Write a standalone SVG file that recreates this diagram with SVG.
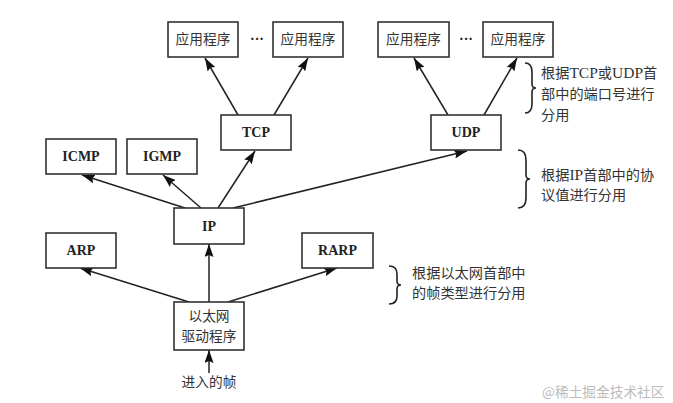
<svg xmlns="http://www.w3.org/2000/svg" width="673" height="403" viewBox="0 0 673 403">
<style>
.box{fill:#fff;stroke:#333;stroke-width:1.6}
.lbl{font-family:"Liberation Serif",serif;font-weight:bold;font-size:14px;fill:#222;text-anchor:middle}
.cn{font-family:"Noto Sans CJK SC",sans-serif;font-size:13.7px;fill:#333;text-anchor:middle}
.note{font-family:"Liberation Serif","Noto Sans CJK SC",serif;font-size:14.2px;fill:#333}
.ln{stroke:#222;stroke-width:1.5;fill:none;marker-end:url(#ah)}
.br{stroke:#222;stroke-width:1.6;fill:none}
</style>
<defs>
<marker id="ah" viewBox="0 0 13 9" refX="13" refY="4.5" markerWidth="13" markerHeight="9" markerUnits="userSpaceOnUse" orient="auto">
<path d="M0,0 L13,4.5 L0,9 L2,4.5 Z" fill="#111"/>
</marker>
</defs>
<rect width="673" height="403" fill="#fff"/>
<g id="connectors">
<line class="ln" x1="238" y1="115" x2="205" y2="58"/>
<line class="ln" x1="274" y1="115" x2="308" y2="58"/>
<line class="ln" x1="448" y1="115" x2="414" y2="58"/>
<line class="ln" x1="484" y1="115" x2="517" y2="58"/>
<line class="ln" x1="185" y1="208" x2="82" y2="175"/>
<line class="ln" x1="201" y1="208" x2="163" y2="175"/>
<line class="ln" x1="218" y1="208" x2="255" y2="151"/>
<line class="ln" x1="233" y1="208" x2="467" y2="151"/>
<line class="ln" x1="189" y1="302" x2="80" y2="268"/>
<line class="ln" x1="209" y1="302" x2="209" y2="244"/>
<line class="ln" x1="228" y1="302" x2="337" y2="268"/>
<line class="ln" x1="209" y1="373" x2="209" y2="350"/>
</g>
<g id="app1"><rect class="box" x="168" y="22" width="70" height="35"/><text class="cn" x="203" y="44">应用程序</text></g>
<g id="app2"><rect class="box" x="273" y="22" width="70" height="35"/><text class="cn" x="308" y="44">应用程序</text></g>
<g id="app3"><rect class="box" x="378" y="22" width="71" height="35"/><text class="cn" x="413.5" y="44">应用程序</text></g>
<g id="app4"><rect class="box" x="483" y="22" width="70" height="35"/><text class="cn" x="518" y="44">应用程序</text></g>
<g id="dots1"><text class="lbl" x="257" y="44">···</text></g>
<g id="dots2"><text class="lbl" x="466" y="44">···</text></g>
<g id="tcp"><rect class="box" x="221" y="115" width="70" height="35"/><text class="lbl" x="256" y="137">TCP</text></g>
<g id="udp"><rect class="box" x="431" y="115" width="70" height="35"/><text class="lbl" x="466" y="137">UDP</text></g>
<g id="icmp"><rect class="box" x="46" y="139" width="70" height="35"/><text class="lbl" x="81" y="161">ICMP</text></g>
<g id="igmp"><rect class="box" x="127" y="139" width="70" height="35"/><text class="lbl" x="162" y="161">IGMP</text></g>
<g id="ip"><rect class="box" x="174" y="208" width="70" height="36"/><text class="lbl" x="209" y="231">IP</text></g>
<g id="arp"><rect class="box" x="46" y="233" width="70" height="35"/><text class="lbl" x="81" y="255">ARP</text></g>
<g id="rarp"><rect class="box" x="302" y="233" width="71" height="35"/><text class="lbl" x="337.5" y="255">RARP</text></g>
<g id="eth"><rect class="box" x="174" y="302" width="70" height="48"/><text class="cn" x="209" y="321">以太网</text><text class="cn" x="209" y="341">驱动程序</text></g>
<g id="in"><text class="cn" x="209" y="387">进入的帧</text></g>
<g id="note1">
<path class="br" d="M525,63 Q532,63 532,72 L532,84 Q532,88 536,88 Q532,88 532,92 L532,104 Q532,113 525,113"/>
<text class="note" x="541" y="78">根据<tspan font-size="15.5">TCP</tspan>或<tspan font-size="15.5">UDP</tspan>首</text>
<text class="note" x="541" y="99">部中的端口号进行</text>
<text class="note" x="541" y="120">分用</text>
</g>
<g id="note2">
<path class="br" d="M518,150 Q526,150 526,160 L526,175 Q526,179 530,179 Q526,179 526,183 L526,198 Q526,208 518,208"/>
<text class="note" x="541" y="180">根据<tspan font-size="15.5">IP</tspan>首部中的协</text>
<text class="note" x="541" y="200">议值进行分用</text>
</g>
<g id="note3">
<path class="br" d="M389,266 Q397,266 397,274 L397,281 Q397,285 401,285 Q397,285 397,289 L397,296 Q397,304 389,304"/>
<text class="note" x="412" y="278">根据以太网首部中</text>
<text class="note" x="412" y="298">的帧类型进行分用</text>
</g>
<g id="watermark"><text x="542" y="397" font-family="'Noto Sans CJK SC',sans-serif" font-size="13.7" fill="#bbb">@稀土掘金技术社区</text></g>
</svg>
